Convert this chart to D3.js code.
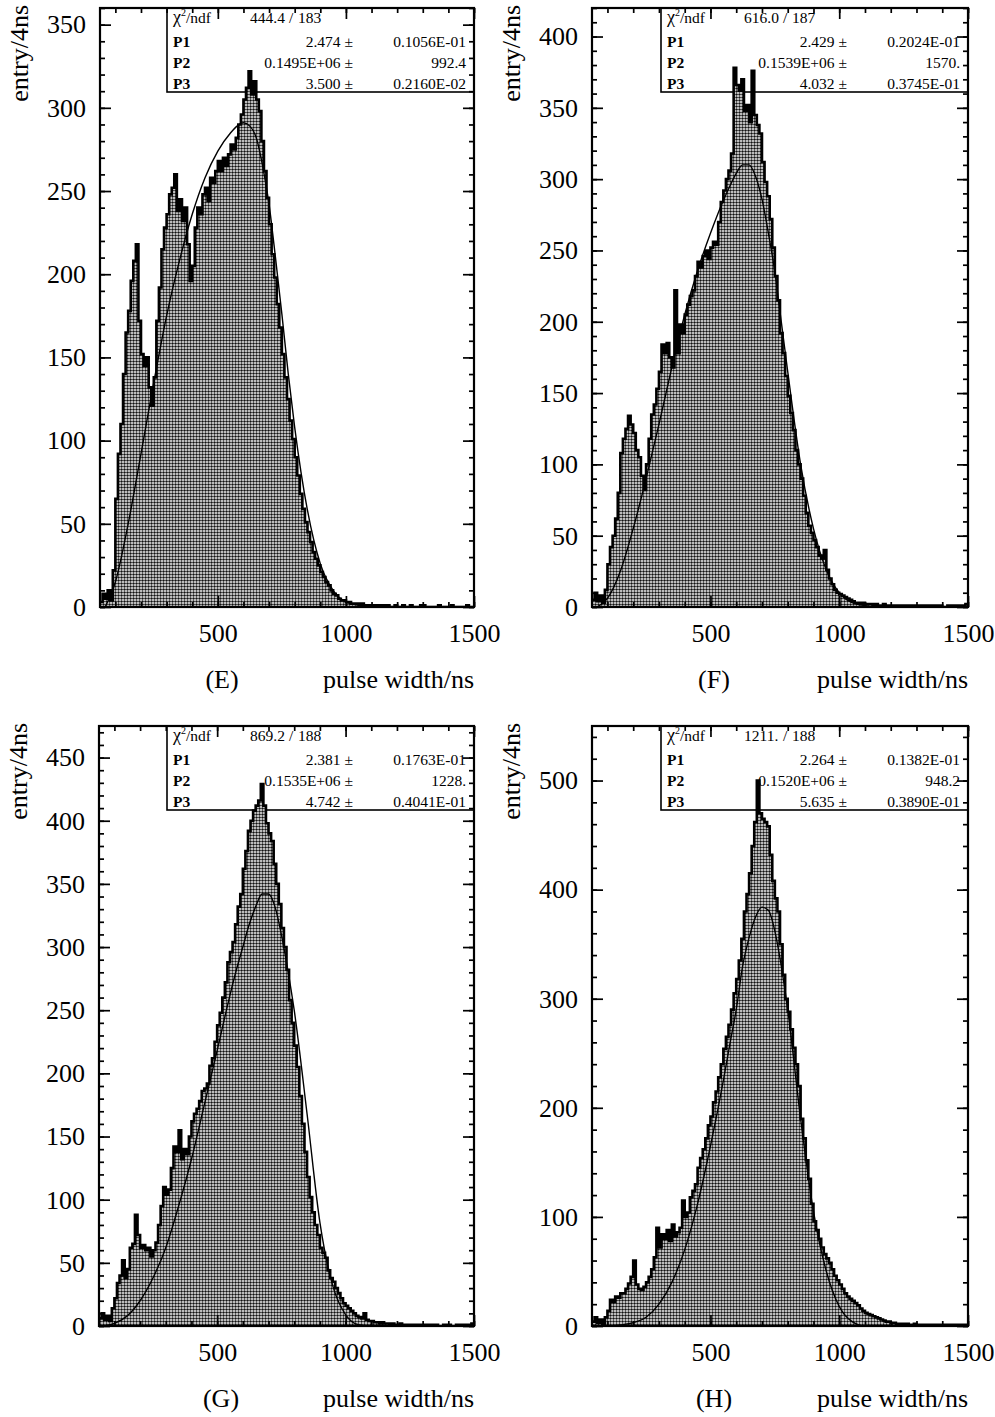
<!DOCTYPE html>
<html>
<head>
<meta charset="utf-8">
<script src="https://cdnjs.cloudflare.com/ajax/libs/d3/7.8.5/d3.min.js"></script>
<style>
body{margin:0;background:#fff}
svg text{font-family:"Liberation Serif","Times New Roman",serif;fill:#000}
</style>
</head>
<body>
<div id="chart"></div>
<script>
// histogram bins, 10 ns wide, lower edges 40..1490 ns
var binStart = d3.range(40, 1500, 10)

var histE = [3,8,5,10,4,22,65,92,110,140,
  165,178,196,208,218,172,152,145,150,132,
  121,138,172,192,215,228,236,248,252,260,
  238,245,232,240,218,196,205,228,240,236,
  248,252,244,258,255,262,268,262,270,265,
  272,278,275,282,290,296,305,312,322,308,
  316,305,298,280,262,246,230,212,198,182,
  168,152,138,125,112,101,90,79,68,59,
  51,45,39,33,29,25,21,18,15,13,
  10,8,7,5,4,4,3,3,2,2,
  2,1,2,1,1,1,1,1,0,1,
  1,0,1,0,0,1,0,0,1,0,
  0,1,0,0,0,1,1,0,0,0,
  0,0,1,0,0,0,0,1,0,0,
  0,0,0,1,0,0]

var histF = [5,10,4,8,3,12,30,42,50,62,
  80,108,118,125,134,128,122,110,105,92,
  82,100,118,135,142,153,165,184,178,185,
  175,168,222,178,198,192,205,212,218,222,
  232,242,238,246,250,244,252,256,254,270,
  284,292,300,306,318,378,366,362,370,348,
  352,340,376,345,338,332,312,298,288,272,
  252,232,215,192,178,162,148,136,124,110,
  100,90,78,66,57,52,47,42,36,34,
  40,26,20,16,12,10,9,8,7,6,
  5,4,3,3,2,3,2,2,2,1,
  2,1,1,2,1,1,0,1,1,1,
  0,1,1,0,1,0,1,1,0,1,
  1,0,1,0,1,1,0,0,1,0,
  1,0,1,0,1,2]

var histG = [6,10,5,8,4,14,22,34,40,52,
  38,45,62,65,88,72,62,64,60,62,
  55,60,66,80,95,110,104,108,125,142,
  138,155,132,140,136,150,162,168,172,178,
  186,188,192,206,212,225,238,248,260,272,
  288,296,304,318,332,342,362,376,392,400,
  408,412,416,429,412,398,390,384,366,350,
  334,315,300,282,258,240,222,205,182,160,
  138,118,102,90,80,72,62,58,54,44,
  38,35,30,26,22,18,16,14,12,10,
  8,7,6,10,5,4,4,3,3,2,
  3,2,2,1,2,1,1,2,1,1,
  1,0,1,1,0,1,1,0,1,0,
  1,1,0,0,1,0,1,0,0,1,
  0,1,0,1,1,2]

var histH = [4,8,3,6,2,8,14,24,22,27,
  26,30,30,34,39,45,60,38,34,33,
  36,40,45,52,63,90,72,84,80,88,
  78,93,82,86,90,115,100,104,118,124,
  130,145,154,162,172,184,192,205,215,228,
  240,254,265,276,290,305,318,335,355,380,
  396,415,440,462,500,470,465,462,458,432,
  408,392,380,350,322,300,288,272,255,240,
  220,190,172,152,135,112,96,88,80,72,
  66,62,58,52,46,42,38,34,30,27,
  25,23,21,19,16,14,12,11,10,9,
  8,7,6,5,4,4,3,3,2,2,
  2,1,2,1,1,2,1,1,0,1,
  1,1,0,1,1,0,1,0,1,0,
  1,0,1,1,0,1]

// fitted curves
var fitNs = [60,100,150,200,250,300,350,400,450,500,550,575,600,625,650,675,700,725,750,775,800,850,900,950,1000,1050,1100,1150]
var fitE = [0,15,50,92,135,175,208,236,258,274,285,289,291,289,282,265,242,210,176,140,108,58,26,10,3,1,0,0]
var fitF = [0,6,25,55,90,128,168,205,236,262,285,295,304,310,310,302,286,262,235,200,165,100,55,26,10,3,1,0]
var fitG = [0,2,8,20,38,62,95,132,175,218,262,282,300,318,332,342,342,332,310,282,250,168,82,32,9,1,0,0]
var fitH = [0,0,1,3,8,20,40,70,112,165,225,258,290,330,356,375,384,381,362,330,290,190,105,50,18,4,0,0]

// statistics boxes: chi2, ndf, P1, err, P2, err, P3, err
var statE = ["444.4","183","2.474","0.1056E-01","0.1495E+06","992.4","3.500","0.2160E-02"]
var statF = ["616.0","187","2.429","0.2024E-01","0.1539E+06","1570.","4.032","0.3745E-01"]
var statG = ["869.2","188","2.381","0.1763E-01","0.1535E+06","1228.","4.742","0.4041E-01"]
var statH = ["1211.","188","2.264","0.1382E-01","0.1520E+06","948.2","5.635","0.3890E-01"]

var yTicksE = [0,50,100,150,200,250,300,350]
var yTicksF = [0,50,100,150,200,250,300,350,400]
var yTicksG = [0,50,100,150,200,250,300,350,400,450]
var yTicksH = [0,100,200,300,400,500]
var xTicks = [500,1000,1500]
var xMinor = d3.range(100,1501,100)
var panelNames = ["(E)","(F)","(G)","(H)"]

var W = 995, H = 1417
var svg = d3.select("#chart").append("svg").attr("width",W).attr("height",H)
var defs = svg.append("defs")

// halftone grey fill
var pat = defs.append("pattern").attr("id","dots")
  .attr("patternUnits","userSpaceOnUse").attr("width",3).attr("height",3)
pat.append("rect").attr("width",3).attr("height",3).attr("fill","#fff")
pat.append("circle").attr("cx",1.5).attr("cy",1.5).attr("r",1.25).attr("fill","#111")

var panels = [
  {hist:histE, fit:fitE, stat:statE, ticks:yTicksE, minor:10, ymax:360, left:100, right:474, top:8, bottom:607},
  {hist:histF, fit:fitF, stat:statF, ticks:yTicksF, minor:10, ymax:420, left:592, right:968, top:8, bottom:607},
  {hist:histG, fit:fitG, stat:statG, ticks:yTicksG, minor:10, ymax:475, left:99, right:474, top:726, bottom:1326},
  {hist:histH, fit:fitH, stat:statH, ticks:yTicksH, minor:20, ymax:550, left:592, right:968, top:726, bottom:1326}
]

function styleAxis(a){
  a.select(".domain").remove()
  a.attr("font-family",null).attr("font-size",null)
  a.selectAll("line").attr("stroke","#000").attr("stroke-width",1.7)
  a.selectAll("text").style("font-size","26px")
}

panels.forEach(function(p,i){
  var g = svg.append("g")
  var x = d3.scaleLinear().domain([40,1500]).range([p.left,p.right])
  var y = d3.scaleLinear().domain([0,p.ymax]).range([p.bottom,p.top])

  defs.append("clipPath").attr("id","clip"+i).append("rect")
    .attr("x",p.left).attr("y",p.top).attr("width",p.right-p.left).attr("height",p.bottom-p.top)

  // stat box background
  var bw = 307, bh = 84
  var bx = p.right - bw, by = p.top
  g.append("rect").attr("x",bx).attr("y",by).attr("width",bw).attr("height",bh)
    .attr("fill","#fff").attr("stroke","#000").attr("stroke-width",1.6)

  // histogram
  var bins = binStart.map(function(b,j){ return {x:b, v:p.hist[j]} })
  bins.push({x:1500, v:p.hist[p.hist.length-1]})
  var area = d3.area().curve(d3.curveStepAfter)
    .x(function(d){ return x(d.x) }).y0(y(0)).y1(function(d){ return y(d.v) })
  var line = d3.line().curve(d3.curveStepAfter)
    .x(function(d){ return x(d.x) }).y(function(d){ return y(d.v) })
  var hg = g.append("g").attr("clip-path","url(#clip"+i+")")
  hg.append("path").datum(bins).attr("d",area).attr("fill","url(#dots)")
  hg.append("path").datum(bins).attr("d",line).attr("fill","none")
    .attr("stroke","#000").attr("stroke-width",2.6).attr("stroke-linejoin","miter")

  // fit curve
  var fitPts = fitNs.map(function(n,j){ return [n, p.fit[j]] })
  hg.append("path").datum(fitPts)
    .attr("d", d3.line().curve(d3.curveMonotoneX)
      .x(function(d){ return x(d[0]) }).y(function(d){ return y(d[1]) }))
    .attr("fill","none").attr("stroke","#000").attr("stroke-width",1.4)

  // frame
  g.append("rect").attr("x",p.left).attr("y",p.top)
    .attr("width",p.right-p.left).attr("height",p.bottom-p.top)
    .attr("fill","none").attr("stroke","#000").attr("stroke-width",2.2)

  var yMinor = d3.range(0,p.ymax+0.01,p.minor)
  g.append("g").attr("transform","translate("+p.left+",0)")
    .call(d3.axisLeft(y).tickValues(yMinor).tickSize(-5).tickFormat("")).call(styleAxis)
  g.append("g").attr("transform","translate("+p.left+",0)")
    .call(d3.axisLeft(y).tickValues(p.ticks).tickSize(-11).tickPadding(14).tickFormat(d3.format("d"))).call(styleAxis)
  g.append("g").attr("transform","translate("+p.right+",0)")
    .call(d3.axisRight(y).tickValues(yMinor).tickSize(-5).tickFormat("")).call(styleAxis)
  g.append("g").attr("transform","translate("+p.right+",0)")
    .call(d3.axisRight(y).tickValues(p.ticks).tickSize(-11).tickFormat("")).call(styleAxis)

  g.append("g").attr("transform","translate(0,"+p.top+")")
    .call(d3.axisTop(x).tickValues(xMinor).tickSize(-5).tickFormat("")).call(styleAxis)
  g.append("g").attr("transform","translate(0,"+p.top+")")
    .call(d3.axisTop(x).tickValues(xTicks).tickSize(-11).tickFormat("")).call(styleAxis)
  g.append("g").attr("transform","translate(0,"+p.bottom+")")
    .call(d3.axisBottom(x).tickValues(xMinor).tickSize(-5).tickFormat("")).call(styleAxis)
  g.append("g").attr("transform","translate(0,"+p.bottom+")")
    .call(d3.axisBottom(x).tickValues(xTicks).tickSize(-11).tickPadding(17).tickFormat(d3.format("d"))).call(styleAxis)

  // axis titles
  g.append("text").attr("transform","translate("+(p.left-72)+","+(p.top-3)+") rotate(-90)")
    .attr("text-anchor","end").style("font-size","26px").text("entry/4ns")
  g.append("text").attr("x",p.right).attr("y",p.bottom+81)
    .attr("text-anchor","end").style("font-size","26px").text("pulse width/ns")
  g.append("text").attr("x",p.left+122).attr("y",p.bottom+81)
    .attr("text-anchor","middle").style("font-size","26px").text(panelNames[i])

  // stat box text
  var st = g.append("g").style("font-size","15.5px")
  var chi = st.append("text").attr("x",bx+6).attr("y",by+15)
  chi.append("tspan").style("font-size","18px").text("\u03c7")
  chi.append("tspan").attr("dy",-7).style("font-size","10px").text("2")
  chi.append("tspan").attr("dy",7).text("/ndf")
  st.append("text").attr("x",bx+83).attr("y",by+15).text(p.stat[0])
  st.append("text").attr("x",bx+122).attr("y",by+15).text("/")
  st.append("text").attr("x",bx+131).attr("y",by+15).text(p.stat[1])
  var rowsY = [39,60,81]
  ;["P1","P2","P3"].forEach(function(nm,k){
    st.append("text").attr("x",bx+6).attr("y",by+rowsY[k]).style("font-weight","bold").text(nm)
    st.append("text").attr("x",bx+186).attr("y",by+rowsY[k]).attr("text-anchor","end")
      .text(p.stat[2+2*k]+" \u00b1")
    st.append("text").attr("x",p.right-8).attr("y",by+rowsY[k]).attr("text-anchor","end")
      .text(p.stat[3+2*k])
  })
})
</script>
</body>
</html>
